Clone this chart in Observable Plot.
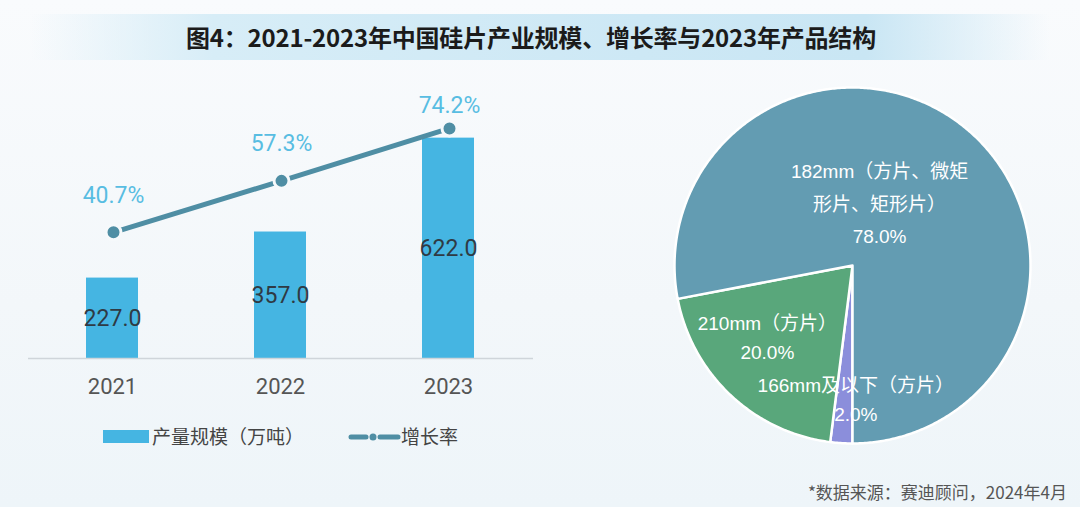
<!DOCTYPE html>
<html><head><meta charset="utf-8">
<script src="https://cdn.jsdelivr.net/npm/d3@7"></script>
<script src="https://cdn.jsdelivr.net/npm/@observablehq/plot@0.6"></script>
<style>
body{margin:0;background:#f5f9fb;}
#root{position:relative;width:1080px;height:507px;overflow:hidden;
 background:linear-gradient(180deg,#f9fbfd 0%,#f3f7fa 60%,#eef5f9 100%);
 font-family:"Noto Sans CJK SC","Noto Sans",sans-serif;}
#band{position:absolute;left:30px;top:14px;width:1020px;height:46px;
 background:linear-gradient(90deg,rgba(205,232,245,0) 0%,#d7edf7 18%,#cde8f5 60%,#c9e6f4 82%,rgba(205,232,245,0) 100%);}
#title{position:absolute;left:0;top:14px;width:1062px;height:46px;line-height:46px;text-align:center;
 font-size:24px;font-weight:bold;color:#1b1b1b;letter-spacing:-0.2px;}
.layer{position:absolute;}
.legtxt{position:absolute;font-size:19px;color:#444;line-height:20px;}
#source{position:absolute;right:13px;top:481px;font-size:17px;color:#555;line-height:22px;}
</style></head>
<body><div id="root">
<div id="band"></div>
<div id="title">图4：2021-2023年中国硅片产业规模、增长率与2023年产品结构</div>
<div id="bars" class="layer" style="left:0;top:0"></div>
<div id="rates" class="layer" style="left:0;top:0"></div>
<div id="pie" class="layer" style="left:664px;top:77px"></div>
<div id="legend"></div>
<div id="source">*数据来源：赛迪顾问，2024年4月</div>
</div>
<script>
// ---- data ----
const years = ["2021", "2022", "2023"];
const output = [227.0, 357.0, 622.0];          // 产量规模（万吨）
const growth = [40.7, 57.3, 74.2];             // 增长率 %
const sizes = ["166mm及以下（方片）", "210mm（方片）", "182mm（方片、微矩\n形片、矩形片）"];
const shares = [2.0, 20.0, 78.0];
const legendNames = ["产量规模（万吨）", "增长率"];

const barColor = "#45b5e2", lineColor = "#4f8ea4", rateColor = "#58bde2";
const pieColors = ["#8b8edb", "#59a77b", "#639cb2"];
const font = 'Roboto,"Noto Sans CJK SC","Noto Sans",sans-serif';
const pieFont = '"Liberation Sans","Noto Sans CJK SC",sans-serif';

const rows = years.map((y, i) => ({year: y, value: output[i], rate: growth[i]}));

const common = {width: 560, height: 420, marginLeft: 28, marginRight: 27, marginBottom: 62,
  style: {background: "transparent", fontFamily: font, overflow: "visible"}};

const barPlot = Plot.plot({
  ...common, marginTop: 110,
  x: {domain: years, paddingInner: 0.69, paddingOuter: 0.345, label: null, axis: null},
  y: {domain: [0, 700], axis: null},
  marks: [
    Plot.barY(rows, {x: "year", y: "value", fill: barColor}),
    Plot.ruleY([0], {stroke: "#cfd5da", strokeWidth: 1.5}),
    Plot.axisX({tickSize: 0, tickPadding: 20, fontSize: 22, fill: "#555", label: null}),
    Plot.text(rows, {x: "year", y: d => d.value / 2, text: d => d.value.toFixed(1), fontSize: 23, fill: "#2f3a44"})
  ]
});
document.getElementById("bars").appendChild(barPlot);

const ratePlot = Plot.plot({
  ...common, marginTop: 48,
  x: {type: "point", domain: years, padding: 0.5, axis: null},
  y: {domain: [0, 100], axis: null},
  marks: [
    Plot.line(rows, {x: "year", y: "rate", stroke: lineColor, strokeWidth: 5}),
    Plot.dot(rows, {x: "year", y: "rate", r: 7.5, fill: lineColor, stroke: "#f6f9fb", strokeWidth: 3}),
    Plot.text(rows, {x: "year", y: d => Math.min(d.rate + 12, 81.5), text: d => d.rate.toFixed(1) + "%", fontSize: 23, fill: rateColor})
  ]
});
document.getElementById("rates").appendChild(ratePlot);

// ---- pie ----
const pieRows = sizes.map((s, i) => ({name: s, share: shares[i]}));
const arcs = d3.pie().value(d => d.share).sort(null).startAngle(Math.PI).endAngle(3 * Math.PI)(pieRows);
const poly = arcs.flatMap(a => {
  const pts = [{name: a.data.name, x: 0, y: 0}];
  const n = Math.max(4, Math.ceil((a.endAngle - a.startAngle) / 0.01));
  for (let k = 0; k <= n; k++) {
    const t = a.startAngle + (a.endAngle - a.startAngle) * k / n;
    pts.push({name: a.data.name, x: Math.sin(t), y: Math.cos(t)});
  }
  return pts;
});
const labels = arcs.map(a => {
  const m = (a.startAngle + a.endAngle) / 2;
  return {text: a.data.name + "\n" + a.data.share.toFixed(1) + "%", x: 0.6 * Math.sin(m), y: 0.6 * Math.cos(m)};
});
const pieText = (i, dx, dy, lh) => Plot.text([labels[i]], {x: "x", y: "y", text: "text", dx, dy, fill: "white", fontSize: 19, lineHeight: lh});
const piePlot = Plot.plot({
  width: 376, height: 376, margin: 10,
  style: {background: "transparent", fontFamily: pieFont, overflow: "visible"},
  x: {domain: [-1, 1], axis: null},
  y: {domain: [-1, 1], axis: null},
  color: {domain: sizes, range: pieColors},
  marks: [
    Plot.line(poly, {x: "x", y: "y", z: "name", fill: "name", stroke: "white", strokeWidth: 2.5, curve: "linear-closed", strokeLinejoin: "round"}),
    pieText(2, -41, 17, 1.72),
    pieText(1, -12, -8, 1.55),
    pieText(0, 10, 25, 1.55)
  ]
});
document.getElementById("pie").appendChild(piePlot);

// ---- legend ----
const leg = document.getElementById("legend");
leg.innerHTML = `
 <div style="position:absolute;left:103px;top:430px;width:46px;height:13px;background:${barColor}"></div>
 <div class="legtxt" style="left:152px;top:426px">${legendNames[0]}</div>
 <svg style="position:absolute;left:348px;top:428px" width="54" height="18">
   <line x1="3" y1="9" x2="18" y2="9" stroke="${lineColor}" stroke-width="5" stroke-linecap="round"/>
   <line x1="32" y1="9" x2="50" y2="9" stroke="${lineColor}" stroke-width="5" stroke-linecap="round"/>
   <circle cx="25" cy="9" r="3.5" fill="${lineColor}"/>
 </svg>
 <div class="legtxt" style="left:401px;top:426px">${legendNames[1]}</div>`;
</script>
</body></html>
